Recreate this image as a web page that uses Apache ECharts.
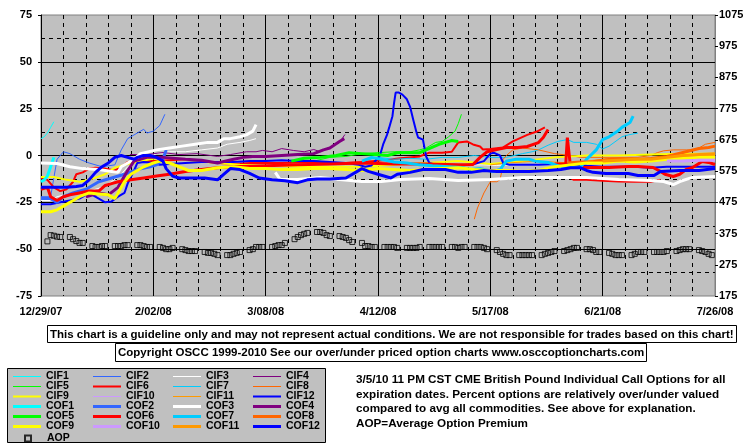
<!DOCTYPE html>
<html>
<head>
<meta charset="utf-8">
<script src="https://cdn.jsdelivr.net/npm/echarts@6/dist/echarts.min.js"></script>
<style>
  html, body { margin: 0; padding: 0; background: #fff; }
  #box { width: 755px; height: 446px; }
</style>
</head>
<body>
<div id="box"></div>
<script>
// x = days since 12/29/07, y = % over/under valued
const xTickLabels = ['12/29/07', '2/02/08', '3/08/08', '4/12/08', '5/17/08', '6/21/08', '7/26/08'];
const GAP = '-';

const cif1 = [[0,9],[1,10],[2,12],[3,15],[4,18]];
const cif2 = [[0,-22],[3,-22],[4,-12],[5,-2],[7,2],[9,1],[12,-2],[15,-4],[19,-6],[23,-5],[25,3],[27,9],[29,11],[31,13],[32,14],[33,12],[35,13],[37,16],[38.6,22]];
const cif3 = [[0,-24],[3,-24],[5,-22],[10,-20],[15,-19],[19,-17],[22,-14],[25,-10],[27,-6],[30,-3],[33,-1],[36,1],[40,2],[45,2],[50,3],[55,4],[58,6],[62,7],[65,8],[67,9],
  [100,GAP],[134,-5],[138,-5],[142,-5.3],[146,-5],[150,-5],[155,-5]];
const cif4 = [[27.7,0.5],[33,0.5],[38,1.6],[43,0.5],[48.6,1],[55,-0.5],[59,0.5],[64,2],[67,2],[69,2.7],[72,2],[75,3.7],[78.6,2.7],[82,2],[85,3.2],[87,2],[89,3.7],[90.6,4.8],[93,7],[94.7,11.2]];
const cif5 = [[85,-3],[90,-1],[95,-0.5],[100,1],[105,1.5],[110,2],[115,2],[118,3],[120,4],[123,7],[125,7.5],[127,10],[129,13],[130,17],[131,22]];
const cif6 = [[0,-12],[2,-13],[4,-17],[6,-19],[8,-18],[10,-14],[11,-10],[13,-9],[15,-7],[17,-6.5],[20,-7],[23,-8],[25,-6],[27,-3.5],[30,-3],[35,-3],[40,-2.5],[45,-2],[50,-3],[55,-4],[60,-4.5],[65,-4],[75,-4],[85,-3.5],[90,-4],[95,-4],[100,-3.5],[107,-2.5],[112,-1.5],[118,-0.5],[121,1.5],[125,1.5],[128,2],[130,7],[132.7,7.5],[134.6,5.9],[136.8,4.8],[137.7,3.2],[140,3.5],[144,4.3],[147,7.5],[151.5,11],[154.5,12.8],[157,15],
  [161,GAP],[165,-12],[166,-13],[170,-13],[175,-13.5],[180,-13.9],[185,-14],[190,-14],[193,-13]];
const cif7 = [[100,-3],[105,-1],[110,-2],[115,-1.5],[120,-2],[125,-1],[130,-1],[135,0],[140,-1],[145,-1],[150,1],[153,2],[155,3],[158,5.5],[161,7.5],[164,8.5],[166,7],[170,7],[173,6],[175,3.5],[177,5],[181,10],[183,11],[186,12]];
const cif8 = [[135,-34],[136,-28],[137,-24],[138,-20],[139,-17],[140,-14],[142,-14],[143,-13],[143.5,-9],[144,-2],[145,0],[147,3],[150,4],[155,3],[160,1],[165,0],[168,-1],[172,-1],[177,-1],[182,-1],[186,-1],[190,0],[192,1.5],[194,2.5],[197,3],[201,3],[203,3],[205,4],[207,6],[210,7]];
const cif9 = [[0,-11.5],[4,-11.5],[8,-13],[12,-14],[15,-13],[20,-10],[23,-6.5],[26,-5],[30,-3.5],[34,-2],[38,-1],[42,-1.5],[48,-3],[55,-4],[62,-5],[70,-5.5],[80,-6],[90,-6],[100,-6],[110,-5],[120,-4],[130,-3],[140,-4.5],[150,-3],[160,-1],[170,0],[180,0],[190,0.5],[200,1],[210,1]];
const cif10 = [[197,-1],[200,-1],[203,-0.5],[207,0],[210,0]];
const cif11 = [[140,-5],[145,-4],[150,-3.5],[155,-3],[160,-3.5],[165,-4],[170,-3],[175,-2],[180,-2],[185,-2],[190,-1.5],[195,-1],[200,-0.5],[205,0],[210,0]];
const cif12 = [[0,-26],[3,-26],[6,-25],[9,-24],[12,-23],[14,-21],[16,-21],[18,-23],[20,-25],[22,-24.5],[24,-22],[26,-20],[27,-15],[29,-8],[30,-4],[32,-3.5],[35,-4],[37,-5],[40,-4.5],[45,-4],[50,-3.5],[55,-3.5],[60,-3.5],[65,-3],[70,-3],[75,-2.5],[80,-3],[85,-3],[90,-3.5],[95,-4],[99,-5],[101,-6],[103,-5.3],[105.6,0],[106.6,5.9],[107.8,11],[108.5,15],[109.5,21],[110,28],[110.5,33.6],[111.5,33.6],[112.6,32.5],[114,30],[115,26],[116,19],[117,12.3],[117.5,9.6],[119,8.5],[120,-0.5],[121,-4],[125,-6],[130,-5.5],[135,-4.5],[138,-3],[140,1],[141,1.5],[143,0],[144,-4],[146,-5],[150,-5],[155,-5],[160,-4.5],[165,-4.5],[170,-5.5],[175,-6],[180,-6],[185,-6],[190,-6.5],[195,-6],[200,-6],[205,-6],[210,-6]];

const cof1 = [[0,-14],[1,-13],[2,-11],[3,-6],[4,-1]];
const cof2 = [[0,-23],[3,-23],[5,-25],[7,-22],[10,-20],[14,-18],[18,-14],[22,-12],[26,-10],[30,-7.5],[34,-6],[36,-5],[38,-2],[39,3]];
const cof3 = [[0,-4],[5,-4.3],[9,-6],[13,-7],[18,-7.5],[22,-8.5],[24,-9],[25,-6],[27,-4],[29,-2],[31,1],[36,3],[40,4],[44,5],[48,6],[52,7],[55,7],[57,9],[59,9],[62,10],[64,11],[66,13],[67,16.5],
  [70,GAP],[73,-9],[74.5,-12.8],[80,-12.8],[87,-11.7],[93,-12.8],[100,-13.9],[106,-13.9],[112,-12.8],[121,-12.3],[130,-13.3],[140,-12.8],[150,-11.7],[160,-11.7],[170,-11.7],[180,-12.8],[190,-13.3],[194,-13.9],[197,-15.5],[199,-13.9],[203,-11.7],[210,-11.2]];
const cof4 = [[14,-22],[18,-20],[21,-21],[24,-17],[27,-8],[29,-3],[33,-1],[38,-1],[45,-2],[50,-2.5],[55,-4],[60,-2],[63,-1],[66,-0.5],[70,-0.5],[75,0],[80,0.5],[85,1],[88,3],[90,4],[93,7.5],[94.5,9]];
const cof5 = [[78,-3],[82,-1.5],[87,-1],[92,0],[96,1.5],[100,1],[104,0.5],[108,0],[111,1.5],[115,1.5],[118,1.5],[120,3],[122,4.5],[124,6],[126,7],[128,8],[130,7.5]];
const cof6 = [[0,-18],[2,-17],[3,-22],[5,-24],[7,-22],[9,-21],[12,-20],[15,-19],[18,-19],[20,-16],[22,-15],[24,-14],[28,-13],[32,-12],[36,-11],[40,-10],[45,-8.5],[50,-7.5],[55,-6.5],[60,-6],[70,-5.5],[80,-5],[90,-4.5],[100,-4],[110,-4.5],[120,-4.5],[130,-5],[134.6,-4.8],[136.8,-1],[139,2],[142,3.2],[145,4.3],[148.5,4.3],[151.5,4.8],[155,6.9],[156.5,9.6],[158,13.9],
  [159,GAP],[160,-4.5],[163.5,-4.5],[164,9.5],[164.5,9.5],[165,-6.4],[168,-6.4],[172,-6.4],[177,-6.4],[183,-5.9],[186,-5.9],[190.7,-6.4],[193,-8.5],[194.4,-10],[197,-11.2],[199,-10],[201,-7.5],[203,-6.4],[206,-3.2],[208,-3.7],[210,-4.8]];
const cof7 = [[100,-3],[103,-1],[106,-2],[110,-3.5],[114,-4],[118,-5],[122,-5.5],[127,-6],[131,-6.4],[134,-7.5],[137,-7],[141,-8.5],[143,-7.5],[145,-3],[148,-2],[152,-2],[154,-3],[158,-3.7],[162,-6],[164,-6.4],[168,-6.4],[170,-2],[173,3],[175,8.5],[177,10],[179.5,12.8],[181,15],[183.5,17.6],[184.5,21]];
const cof8 = [[164,-4],[168,-3.5],[172,-3.3],[176,-2.3],[180,-1.7],[185,-2.2],[190,-1.6],[195,-0.5],[200,1.6],[205,3.7],[208,4.3],[210,5]];
const cof9 = [[0,-30],[3,-30],[5,-29],[7,-27],[10,-24],[12,-22],[15,-20],[18,-20.5],[21,-21],[23,-23],[24,-20],[26,-14],[28,-10],[30,-8],[32,-6],[35,-4],[37,-3],[40,-4],[43,-6],[46,-8],[50,-8],[55,-6.5],[60,-6],[65,-7],[70,-7],[75,-7.5],[80,-7.5],[85,-7],[90,-7],[95,-7.5],[100,-8],[105,-7],[110,-7.5],[115,-8],[120,-7.5],[125,-7],[130,-6.5],[135,-7.5],[140,-8],[145,-8],[150,-8.5],[155,-8],[160,-6],[165,-5],[170,-4],[175,-4],[180,-3],[185,-3.5],[190,-3],[195,-2],[200,-1.5],[205,-1],[210,-1]];
const cof10 = [[195,-3],[200,-3],[205,-2.5],[210,-2.5]];
const cof11 = [[175,-3],[180,-2.5],[185,-2],[190,-2],[195,-1],[200,0],[205,0.5],[210,1]];
const cof12 = [[0,-17],[4,-17],[8,-17],[11,-16.5],[13,-16],[15,-13],[17,-9],[19,-6],[21,-4],[23,-1],[25,0],[27,-1],[29,-2],[30,-1],[32,0],[34,0],[36,-1],[38,-3],[39,-7],[41,-11],[43,-12],[47,-12],[51,-12],[55,-13],[57,-10],[59,-7],[62,-7.5],[65,-9.5],[68,-12],[72,-13],[76,-13.5],[80,-14.5],[83,-13],[86,-12.5],[90,-12.5],[95,-12],[98,-9],[100,-7],[102,-8.5],[105,-10],[109,-12],[111,-10],[115,-9],[119,-7.5],[126,-7.5],[130,-9],[134,-9],[138,-8],[142,-8.5],[146,-8.5],[152,-8.5],[158,-8],[162,-7.5],[165,-6.5],[168,-6.5],[170,-8],[172,-9],[176,-9.6],[183,-9.6],[186,-10.7],[191,-10.7],[193,-8.5],[199,-8],[205,-8],[210,-7]];

// Average option premium, one row per trading week (Mon..Fri), right axis
const aopFirstMonday = 2;
const aopWeeks = [
  [350,370,368,365,364],[364,357,351,345,345],[335,332,332,335,335],[335,335,335,338,338],
  [338,338,335,332,332],[332,329,325,325,329],[325,322,319,319,319],[316,313,313,310,306],
  [306,306,310,313,316],[322,325,332,332,332],[332,335,338,338,345],[357,364,370,374,377],
  [380,380,377,370,367],[367,364,361,354,348],[345,335,335,332,332],[332,332,332,332,329],
  [329,329,329,329,332],[332,332,332,332,332],[332,332,329,332,332],[332,332,332,329,325],
  [322,316,310,306,306],[306,306,306,306,306],[306,310,313,316,319],[319,322,325,329,329],
  [325,325,322,316,316],[313,310,306,306,306],[306,310,316,316,316],[316,316,316,316,319],
  [319,322,325,325,325],[322,319,316,310,306]
];

const lineNames = ['CIF1','CIF2','CIF3','CIF4','CIF5','CIF6','CIF7','CIF8','CIF9','CIF10','CIF11','CIF12',
                   'COF1','COF2','COF3','COF4','COF5','COF6','COF7','COF8','COF9','COF10','COF11','COF12'];
const lineData = [cif1,cif2,cif3,cif4,cif5,cif6,cif7,cif8,cif9,cif10,cif11,cif12,
                  cof1,cof2,cof3,cof4,cof5,cof6,cof7,cof8,cof9,cof10,cof11,cof12];
const palette = ['#00ffff','#3366ff','#ffffff','#800080','#00ff00','#ff0000','#00ccff','#ff6600','#ffff00','#cc99ff','#ff9900','#0000ff'];
const cifWidth = [1,1,1,1,1,2,1,1,2,1,1,2];

const aopData = aopWeeks.flatMap((wk, w) => wk.map((v, i) => [aopFirstMonday + 7 * w + i, v]));

const font = 'Liberation Sans, Arial, sans-serif';
const boldText = { fontFamily: font, fontWeight: 'bold', fontSize: 11, color: '#000' };
const lineWidthOf = i => (i < 12 ? cifWidth[i] : 3);
// legend swatch: a bar as wide as the legend item and as thick as the line
const barIcon = w => 'path://M0,0H28V' + w + 'H0Z';
const legendText = Object.assign({}, boldText, { fontSize: 10.5, lineHeight: 10, width: 47 });

const series = lineNames.map((name, i) => ({
  name: name,
  type: 'line',
  data: lineData[i],
  yAxisIndex: 0,
  symbol: 'none',
  connectNulls: false,
  color: palette[i % 12],
  lineStyle: { color: palette[i % 12], width: lineWidthOf(i) },
  emphasis: { disabled: true }
}));
series.push({
  name: 'AOP',
  type: 'scatter',
  yAxisIndex: 1,
  data: aopData,
  symbol: 'rect',
  symbolSize: 5,
  itemStyle: { color: 'rgba(0,0,0,0)', borderColor: '#000', borderWidth: 1 },
  emphasis: { disabled: true }
});

// one legend per row of four, so the rows sit 10px apart
const legends = [];
for (let r = 0; r < 6; r++) {
  legends.push({
    data: lineNames.slice(r * 4, r * 4 + 4).map((n, k) => ({ name: n, icon: barIcon(lineWidthOf(r * 4 + k)) })),
    left: 13, top: 371 + r * 10, padding: 0, orient: 'horizontal',
    itemWidth: 28, itemHeight: 10, itemGap: 0,
    textStyle: legendText,
    selectedMode: false
  });
}
legends.push({
  data: [{ name: 'AOP', icon: 'rect' }],
  left: 24, top: 433, padding: 0,
  itemWidth: 6, itemHeight: 6, itemGap: 0,
  textStyle: Object.assign({}, boldText, { fontSize: 10.5, lineHeight: 10, padding: [0, 0, 0, 11] }),
  selectedMode: false
});

const myeCharts = echarts.init(document.getElementById('box'));
const option = {
  animation: false,
  backgroundColor: '#fff',
  title: [
    {
      text: 'This chart is a guideline only and may not represent actual conditions. We are not responsible for trades based on this chart!',
      left: 47, top: 325, padding: [3, 3, 2, 3],
      borderColor: '#000', borderWidth: 1,
      textStyle: Object.assign({}, boldText, { fontSize: 11.5, lineHeight: 13 })
    },
    {
      text: 'Copyright OSCC 1999-2010 See our over/under priced option charts www.osccoptioncharts.com',
      left: 115, top: 343, padding: [3, 3, 3, 3],
      borderColor: '#000', borderWidth: 1,
      textStyle: Object.assign({}, boldText, { fontSize: 11.5, lineHeight: 13 })
    },
    {
      text: '3/5/10 11 PM CST CME British Pound Individual Call Options for all\nexpiration dates. Percent options are relatively over/under valued\ncompared to avg all commodities. See above for explanation.\nAOP=Average Option Premium',
      left: 356, top: 373, padding: 0,
      textStyle: Object.assign({}, boldText, { fontSize: 11.7, lineHeight: 14.4 })
    }
  ],
  graphic: [
    {
      type: 'rect', z: 0, left: 7, top: 368,
      shape: { width: 318, height: 74 },
      style: { fill: '#c0c0c0', stroke: '#000', lineWidth: 1 }
    }
  ],
  legend: legends,
  grid: {
    left: 41, right: 40, top: 15, bottom: 150,
    show: true, backgroundColor: '#c0c0c0', borderColor: '#808080', borderWidth: 1
  },
  xAxis: {
    type: 'value', min: 0, max: 210, interval: 35,
    axisLine: { show: true, lineStyle: { color: '#000', width: 1 } },
    axisTick: { show: false },
    axisLabel: Object.assign({}, boldText, {
      margin: 10,
      formatter: v => xTickLabels[Math.round(v / 35)]
    }),
    splitLine: { show: true, showMinLine: false, showMaxLine: false, lineStyle: { color: '#000', width: 1 } },
    minorTick: { show: false, splitNumber: 5 },
    minorSplitLine: { show: true, lineStyle: { color: '#000', width: 1, type: [4, 4] } }
  },
  yAxis: [
    {
      type: 'value', min: -75, max: 75, interval: 25,
      axisLine: { show: true, lineStyle: { color: '#000', width: 1 } },
      axisTick: { show: true, length: 3, lineStyle: { color: '#000' } },
      axisLabel: Object.assign({}, boldText, { margin: 9 }),
      splitLine: { show: true, showMaxLine: false, showMinLine: false, lineStyle: { color: '#000', width: 1 } },
      minorTick: { show: false, splitNumber: 2 },
      minorSplitLine: { show: true, lineStyle: { color: '#000', width: 1, type: [4, 4] } }
    },
    {
      type: 'value', min: 175, max: 1075, interval: 100, position: 'right',
      axisLine: { show: true, lineStyle: { color: '#808080', width: 1 } },
      axisTick: { show: true, length: 3, lineStyle: { color: '#000' } },
      axisLabel: Object.assign({}, boldText, { margin: 4, formatter: v => String(v) }),
      splitLine: { show: false }
    }
  ],
  series: series
};
myeCharts.setOption(option);
</script>
</body>
</html>
